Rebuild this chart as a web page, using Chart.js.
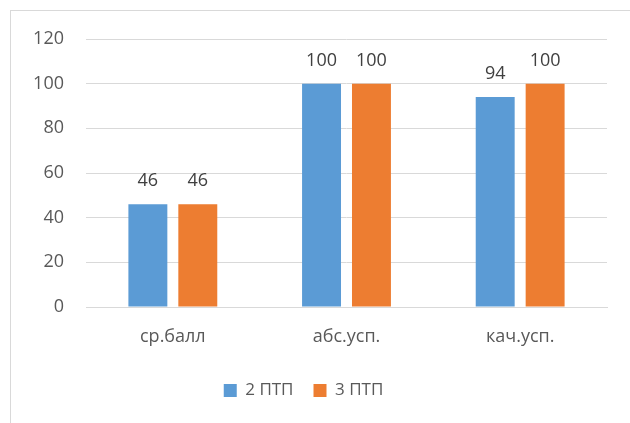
<!DOCTYPE html>
<html>
<head>
<meta charset="utf-8">
<script src="https://cdn.jsdelivr.net/npm/chart.js@4"></script>
<style>
  html, body { margin:0; padding:0; background:#fff; overflow:hidden; }
  #wrap { position:relative; width:630px; height:423px; overflow:hidden; }
  #frame { position:absolute; left:10px; top:10px; width:700px; height:500px; border:1px solid #d9d9d9; box-sizing:border-box; }
  canvas { position:absolute; left:0; top:0; }
</style>
</head>
<body>
<div id="wrap">
  <div id="frame"></div>
  <canvas id="chart" width="630" height="423"></canvas>
</div>
<script>
// chart data
const categories = ['ср.балл', 'абс.усп.', 'кач.усп.'];
const seriesNames = ['2 ПТП', '3 ПТП'];
const ptp2 = [46, 100, 94];
const ptp3 = [46, 100, 100];
const yTicks = [0, 20, 40, 60, 80, 100, 120];

const FONT = "'Open Sans', 'Liberation Sans', sans-serif";

// values over the bars
const barLabels = {
  id: 'barLabels',
  afterDatasetsDraw(chart){
    const ctx = chart.ctx;
    ctx.save();
    ctx.font = '18px ' + FONT;
    ctx.fillStyle = '#404040';
    ctx.textAlign = 'center';
    ctx.textBaseline = 'alphabetic';
    chart.data.datasets.forEach((ds, i) => {
      chart.getDatasetMeta(i).data.forEach((bar, j) => {
        ctx.fillText(String(ds.data[j]), bar.x, bar.y - 18);
      });
    });
    ctx.restore();
  }
};

new Chart(document.getElementById('chart'), {
  type: 'bar',
  data: {
    labels: categories,
    datasets: [
      { label: seriesNames[0], data: ptp2, backgroundColor: '#5B9BD5' },
      { label: seriesNames[1], data: ptp3, backgroundColor: '#ED7D31' }
    ]
  },
  options: {
    responsive: false,
    animation: false,
    layout: { padding: { top: 39, right: 23, bottom: 14, left: 0 } },
    datasets: { bar: { categoryPercentage: 0.575, barPercentage: 0.78 } },
    plugins: {
      legend: {
        position: 'bottom',
        labels: {
          boxWidth: 13, boxHeight: 13, padding: 20,
          color: '#595959', font: { family: FONT, size: 17 }
        }
      },
      tooltip: { enabled: false }
    },
    scales: {
      x: {
        grid: { display: false, drawTicks: false },
        border: { display: true, color: '#d9d9d9' },
        ticks: { color: '#595959', padding: 19, font: { family: FONT, size: 18 } },
        afterFit: s => { s.height = 55; }
      },
      y: {
        min: 0, max: 120,
        afterBuildTicks: s => { s.ticks = yTicks.map(v => ({ value: v })); },
        afterFit: s => { s.width = 86; },
        grid: { color: '#d9d9d9', drawTicks: false },
        border: { display: false },
        ticks: { color: '#595959', padding: 22, font: { family: FONT, size: 18 } }
      }
    }
  },
  plugins: [barLabels]
});
</script>
</body>
</html>
